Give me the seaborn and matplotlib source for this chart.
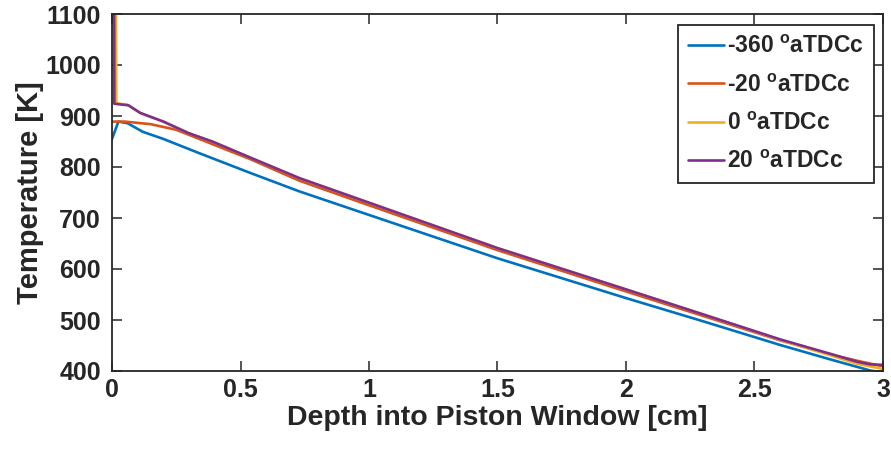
import matplotlib
matplotlib.use("Agg")
import matplotlib.pyplot as plt
import seaborn as sns
import pandas as pd

# ---- data ----
series_labels = ["-360 $^{\\mathrm{o}}$aTDCc", "-20 $^{\\mathrm{o}}$aTDCc",
                 "0 $^{\\mathrm{o}}$aTDCc", "20 $^{\\mathrm{o}}$aTDCc"]

x_m360 = [0.0, 0.025, 0.06, 0.12, 0.2, 0.34, 0.54, 0.73, 1.0, 1.5, 2.0, 2.29, 2.6, 2.8, 2.95, 3.0]
t_m360 = [855, 889, 886, 869, 855, 827, 788, 752, 706, 621, 543, 499, 451, 422, 401, 397]

x_m20 = [0.0, 0.05, 0.15, 0.25, 0.3, 0.54, 0.73, 1.0, 1.5, 2.0, 2.3, 2.6, 2.8, 2.9, 3.0]
t_m20 = [889, 889, 884, 873, 863, 815, 773, 725, 637, 556, 508, 460, 432, 420, 409]

x_0 = [0.015, 0.017, 0.06, 0.11, 0.2, 0.3, 0.39, 0.54, 0.73, 1.0, 1.5, 2.0, 2.3, 2.6, 2.8, 2.9, 3.0]
t_0 = [1200, 925, 922, 906, 889, 866, 850, 818, 778, 730, 641, 560, 511, 461, 430, 414, 404]

x_20 = [0.008, 0.009, 0.064, 0.11, 0.2, 0.3, 0.39, 0.54, 0.73, 1.0, 1.5, 2.0, 2.3, 2.6, 2.8, 2.9, 2.95, 3.0]
t_20 = [1200, 924, 921, 906, 889, 866, 850, 818, 778, 730, 641, 560, 511, 462, 433, 418, 413, 412]

x_ticks = [0, 0.5, 1, 1.5, 2, 2.5, 3]
x_tick_labels = ["0", "0.5", "1", "1.5", "2", "2.5", "3"]
y_ticks = [400, 500, 600, 700, 800, 900, 1000, 1100]

colors = ["#0072BD", "#D95319", "#EDB120", "#7E2F8E"]

frames = []
for lab, xs, ts in zip(series_labels, [x_m360, x_m20, x_0, x_20], [t_m360, t_m20, t_0, t_20]):
    frames.append(pd.DataFrame({"depth": xs, "temp": ts, "series": lab}))
df = pd.concat(frames, ignore_index=True)

# ---- style ----
sns.set_style("ticks")
plt.rcParams["font.family"] = ["Liberation Sans", "DejaVu Sans"]
plt.rcParams["font.weight"] = "bold"
plt.rcParams["mathtext.fontset"] = "custom"
plt.rcParams["mathtext.rm"] = "Liberation Sans:bold"
plt.rcParams["mathtext.it"] = "Liberation Sans:bold"
plt.rcParams["mathtext.bf"] = "Liberation Sans:bold"

dark = "#262626"
fig = plt.figure(figsize=(8.91, 4.5), dpi=100)
ax = fig.add_axes([112 / 891, 1 - 371 / 450, (883 - 112) / 891, (371 - 14) / 450])

sns.lineplot(data=df, x="depth", y="temp", hue="series", palette=colors,
             sort=False, estimator=None, units="series", linewidth=1.9, ax=ax)

ax.set_xlim(0, 3)
ax.set_ylim(400, 1100)
ax.set_xticks(x_ticks)
ax.set_xticklabels(x_tick_labels)
ax.set_yticks(y_ticks)

for s in ax.spines.values():
    s.set_visible(True)
    s.set_linewidth(1.3)
    s.set_color(dark)

ax.tick_params(direction="in", length=7, width=1.1, color=dark, labelcolor=dark,
               labelsize=18, top=True, right=True)
ax.tick_params(axis="y", pad=8)
ax.tick_params(axis="x", pad=5)
for lbl in ax.get_xticklabels() + ax.get_yticklabels():
    lbl.set_fontweight("bold")

ax.set_xlabel("Depth into Piston Window [cm]", fontsize=20.5, fontweight="bold", color=dark, labelpad=2)
ax.set_ylabel("Temperature [K]", fontsize=21, fontweight="bold", color=dark, labelpad=1)

handles, labels = ax.get_legend_handles_labels()
leg = ax.legend(handles, labels, loc="upper right", bbox_to_anchor=(0.9885, 0.969),
                fontsize=16.5, frameon=True, fancybox=False, framealpha=1,
                edgecolor=dark, handlelength=1.55, handletextpad=0.15,
                labelspacing=0.66, borderpad=0.45, borderaxespad=0)
leg.get_frame().set_linewidth(1.3)
for t in leg.get_texts():
    t.set_fontweight("bold")
for h in leg.get_lines():
    h.set_linewidth(1.9)

fig.savefig("out.png", dpi=100)
